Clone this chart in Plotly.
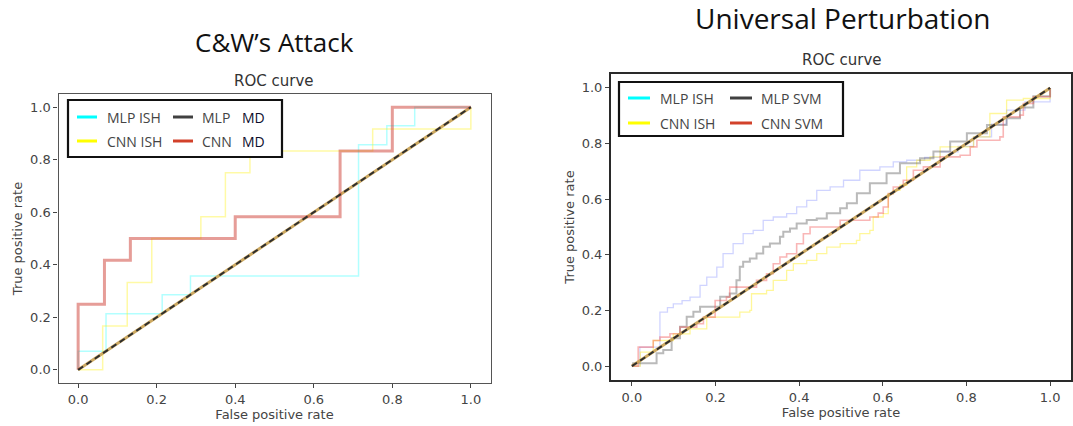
import plotly.graph_objects as go

# ---------------- Data: C&W's Attack ----------------
cw_mlp_ish_fpr = [0, 0, 0.071, 0.071, 0.214, 0.214, 0.286, 0.286, 0.714, 0.714, 0.786, 0.786, 0.857, 0.857, 1.0]
cw_mlp_ish_tpr = [0, 0.071, 0.071, 0.214, 0.214, 0.286, 0.286, 0.357, 0.357, 0.857, 0.857, 0.929, 0.929, 1.0, 1.0]

cw_cnn_ish_fpr = [0, 0.0625, 0.0625, 0.125, 0.125, 0.1875, 0.1875, 0.3125, 0.3125, 0.375, 0.375, 0.4375, 0.4375, 0.75, 0.75, 1.0, 1.0]
cw_cnn_ish_tpr = [0, 0, 0.167, 0.167, 0.333, 0.333, 0.5, 0.5, 0.583, 0.583, 0.75, 0.75, 0.833, 0.833, 0.917, 0.917, 1.0]

cw_cnn_md_fpr = [0, 0, 0.067, 0.067, 0.133, 0.133, 0.4, 0.4, 0.667, 0.667, 0.8, 0.8, 1.0]
cw_cnn_md_tpr = [0, 0.25, 0.25, 0.417, 0.417, 0.5, 0.5, 0.583, 0.583, 0.833, 0.833, 1.0, 1.0]

cw_mlp_md_fpr = [0, 1.0]
cw_mlp_md_tpr = [0, 1.0]

diag = [0, 1]

# ---------------- Data: Universal Perturbation ----------------
up_mlp_ish_fpr = [0, 0.019, 0.045, 0.067, 0.085, 0.099, 0.12, 0.139, 0.163, 0.179, 0.203, 0.218, 0.242, 0.266, 0.29, 0.314,
                  0.338, 0.37, 0.394, 0.418, 0.442, 0.474, 0.506, 0.545, 0.593, 0.625, 0.657, 0.7, 0.737, 0.78, 0.817, 0.86, 0.896, 0.94, 1.0]
up_mlp_ish_tpr = [0, 0.068, 0.068, 0.194, 0.21, 0.224, 0.235, 0.248, 0.29, 0.32, 0.356, 0.404, 0.44, 0.476, 0.488, 0.524,
                  0.536, 0.548, 0.572, 0.596, 0.632, 0.644, 0.668, 0.704, 0.716, 0.734, 0.74, 0.75, 0.77, 0.79, 0.824, 0.87, 0.92, 0.95, 1.0]

up_mlp_svm_fpr = [0, 0.003, 0.059, 0.059, 0.075, 0.095, 0.115, 0.131, 0.147, 0.163, 0.19, 0.211, 0.234, 0.25, 0.258, 0.266,
                  0.282, 0.298, 0.314, 0.33, 0.354, 0.362, 0.378, 0.394, 0.418, 0.442, 0.466, 0.498, 0.514, 0.538, 0.569,
                  0.609, 0.641, 0.689, 0.721, 0.761, 0.801, 0.849, 0.896, 0.928, 0.96, 1.0]
up_mlp_svm_tpr = [0, 0.01, 0.022, 0.046, 0.058, 0.1, 0.141, 0.177, 0.195, 0.213, 0.213, 0.249, 0.261, 0.309, 0.357, 0.375,
                  0.387, 0.405, 0.429, 0.441, 0.465, 0.483, 0.495, 0.513, 0.525, 0.531, 0.549, 0.567, 0.585, 0.621, 0.657,
                  0.693, 0.729, 0.747, 0.771, 0.807, 0.837, 0.867, 0.891, 0.93, 0.97, 1.0]

up_cnn_svm_fpr = [0, 0.015, 0.043, 0.051, 0.067, 0.091, 0.115, 0.155, 0.171, 0.195, 0.199, 0.226, 0.234, 0.274, 0.298, 0.322,
                  0.338, 0.354, 0.37, 0.394, 0.41, 0.426, 0.474, 0.498, 0.545, 0.569, 0.589, 0.601, 0.613, 0.625, 0.649,
                  0.673, 0.697, 0.737, 0.785, 0.809, 0.825, 0.88, 0.888, 0.928, 0.936, 0.96, 1.0]
up_cnn_svm_tpr = [0, 0.068, 0.068, 0.092, 0.104, 0.116, 0.14, 0.152, 0.176, 0.176, 0.236, 0.248, 0.284, 0.284, 0.308, 0.332,
                  0.368, 0.392, 0.404, 0.44, 0.476, 0.5, 0.5, 0.524, 0.524, 0.536, 0.55, 0.572, 0.62, 0.644, 0.668,
                  0.704, 0.716, 0.752, 0.758, 0.788, 0.812, 0.824, 0.896, 0.902, 0.944, 0.968, 1.0]

up_cnn_ish_fpr = [0, 0.02, 0.051, 0.099, 0.139, 0.179, 0.258, 0.282, 0.286, 0.322, 0.338, 0.37, 0.386, 0.418, 0.442, 0.466,
                  0.498, 0.537, 0.545, 0.569, 0.577, 0.601, 0.613, 0.625, 0.641, 0.657, 0.681, 0.713, 0.737, 0.817,
                  0.856, 0.896, 0.936, 1.0]
up_cnn_ish_tpr = [0, 0.05, 0.092, 0.116, 0.134, 0.176, 0.194, 0.2, 0.26, 0.272, 0.308, 0.344, 0.368, 0.38, 0.404, 0.428,
                  0.44, 0.452, 0.476, 0.488, 0.536, 0.548, 0.62, 0.632, 0.65, 0.716, 0.74, 0.752, 0.788, 0.824,
                  0.908, 0.956, 0.962, 1.0]

tick_vals = [0.0, 0.2, 0.4, 0.6, 0.8, 1.0]
tick_text = ["0.0", "0.2", "0.4", "0.6", "0.8", "1.0"]

W, H = 1073, 426

def px_x(p):
    return p / W

def px_y(p):
    return 1 - p / H

fig = go.Figure()

# ---- Left panel traces
fig.add_trace(go.Scatter(x=cw_mlp_ish_fpr, y=cw_mlp_ish_tpr, mode="lines", line=dict(color="rgba(0,255,255,0.3)", width=1.5),
                         xaxis="x", yaxis="y", showlegend=False))
fig.add_trace(go.Scatter(x=cw_cnn_ish_fpr, y=cw_cnn_ish_tpr, mode="lines", line=dict(color="rgba(255,240,0,0.35)", width=1.5),
                         xaxis="x", yaxis="y", showlegend=False))
fig.add_trace(go.Scatter(x=cw_mlp_md_fpr, y=cw_mlp_md_tpr, mode="lines", line=dict(color="rgba(200,160,80,0.9)", width=3),
                         xaxis="x", yaxis="y", showlegend=False))
fig.add_trace(go.Scatter(x=cw_cnn_md_fpr, y=cw_cnn_md_tpr, mode="lines", line=dict(color="rgba(205,60,50,0.5)", width=3),
                         xaxis="x", yaxis="y", showlegend=False))
fig.add_trace(go.Scatter(x=diag, y=diag, mode="lines", line=dict(color="#2e2e2e", width=2, dash="6px,4px"),
                         xaxis="x", yaxis="y", showlegend=False))

# ---- Right panel traces
fig.add_trace(go.Scatter(x=up_mlp_ish_fpr, y=up_mlp_ish_tpr, mode="lines", line=dict(color="rgba(150,160,255,0.45)", width=1.3, shape="hv"),
                         xaxis="x2", yaxis="y2", showlegend=False))
fig.add_trace(go.Scatter(x=up_cnn_ish_fpr, y=up_cnn_ish_tpr, mode="lines", line=dict(color="rgba(255,235,0,0.4)", width=1.3, shape="hv"),
                         xaxis="x2", yaxis="y2", showlegend=False))
fig.add_trace(go.Scatter(x=up_mlp_svm_fpr, y=up_mlp_svm_tpr, mode="lines", line=dict(color="rgba(90,90,90,0.42)", width=2, shape="hv"),
                         xaxis="x2", yaxis="y2", showlegend=False))
fig.add_trace(go.Scatter(x=up_cnn_svm_fpr, y=up_cnn_svm_tpr, mode="lines", line=dict(color="rgba(240,80,80,0.42)", width=1.6, shape="hv"),
                         xaxis="x2", yaxis="y2", showlegend=False))
fig.add_trace(go.Scatter(x=diag, y=diag, mode="lines", line=dict(color="rgba(200,160,80,0.9)", width=3),
                         xaxis="x2", yaxis="y2", showlegend=False))
fig.add_trace(go.Scatter(x=diag, y=diag, mode="lines", line=dict(color="#2e2e2e", width=2, dash="6px,4px"),
                         xaxis="x2", yaxis="y2", showlegend=False))

tick_font = dict(family="DejaVu Sans", size=13, color="#444")
title_font = dict(family="DejaVu Sans", size=13, color="#444")

def axis(linecolor, linewidth):
    return dict(range=[-0.05, 1.05], tickvals=tick_vals, ticktext=tick_text, ticks="outside", ticklen=4,
                tickcolor="#444", tickfont=tick_font, automargin=False,
                showgrid=False, zeroline=False, showline=True, linecolor=linecolor, linewidth=linewidth, mirror=True)

fig.update_layout(
    width=W, height=H, margin=dict(l=0, r=0, t=0, b=0, autoexpand=False),
    paper_bgcolor="white", plot_bgcolor="white",
    xaxis=dict(domain=[px_x(58.5), px_x(490.5)], anchor="y",
               title=dict(text="False positive rate", font=title_font, standoff=2), **axis("#555", 1.2)),
    yaxis=dict(domain=[px_y(383), px_y(94)], anchor="x",
               title=dict(text="True positive rate", font=title_font, standoff=4), **axis("#555", 1.2)),
    xaxis2=dict(domain=[px_x(611), px_x(1071)], anchor="y2",
                title=dict(text="False positive rate", font=title_font, standoff=2), **axis("#2a2a2a", 2)),
    yaxis2=dict(domain=[px_y(380), px_y(74)], anchor="x2",
                title=dict(text="True positive rate", font=title_font, standoff=4), **axis("#2a2a2a", 2)),
)

annotations = []
shapes = []

# Titles
annotations.append(dict(text="C&W’s Attack", x=px_x(274), y=px_y(42), xref="paper", yref="paper",
                        showarrow=False, font=dict(family="Open Sans", size=26, color="#111"), xanchor="center", yanchor="middle"))
annotations.append(dict(text="Universal Perturbation", x=px_x(842), y=px_y(18), xref="paper", yref="paper",
                        showarrow=False, font=dict(family="Open Sans", size=28, color="#111"), xanchor="center", yanchor="middle"))
annotations.append(dict(text="ROC curve", x=px_x(274), y=px_y(81), xref="paper", yref="paper",
                        showarrow=False, font=dict(family="DejaVu Sans", size=15, color="#333"), xanchor="center", yanchor="middle"))
annotations.append(dict(text="ROC curve", x=px_x(842), y=px_y(60), xref="paper", yref="paper",
                        showarrow=False, font=dict(family="DejaVu Sans", size=15, color="#333"), xanchor="center", yanchor="middle"))

# Manual legends
def legend(box, entries):
    x0, y0, x1, y1 = box
    shapes.append(dict(type="rect", xref="paper", yref="paper", x0=px_x(x0), x1=px_x(x1), y0=px_y(y1), y1=px_y(y0),
                       line=dict(color="#111", width=2.2), fillcolor="white", layer="above"))
    for (lx0, lx1, ly, color, texts) in entries:
        shapes.append(dict(type="line", xref="paper", yref="paper", x0=px_x(lx0), x1=px_x(lx1), y0=px_y(ly), y1=px_y(ly),
                           line=dict(color=color, width=3), layer="above"))
        for (tx, txt, fam, size, col) in texts:
            annotations.append(dict(text=txt, x=px_x(tx), y=px_y(ly), xref="paper", yref="paper", showarrow=False,
                                    font=dict(family=fam, size=size, color=col), xanchor="left", yanchor="middle"))

g = "#444"
lf = "Open Sans"
legend((68, 100, 282, 157), [
    (77, 97, 117, "#00ffff", [(105, "MLP ISH", lf, 14, g)]),
    (77, 97, 141, "#ffff00", [(105, "CNN ISH", lf, 14, g)]),
    (173, 193, 117, "#404040", [(200, "MLP", lf, 14, g), (240, "MD", lf, 14, "#0d0d2b")]),
    (173, 193, 141, "#d2412a", [(200, "CNN", lf, 14, g), (240, "MD", lf, 14, "#0d0d2b")]),
])
legend((619, 82, 843, 136), [
    (628, 650, 98, "#00ffff", [(658, "MLP ISH", lf, 14, g)]),
    (628, 650, 123, "#ffff00", [(658, "CNN ISH", lf, 14, g)]),
    (730, 752, 98, "#404040", [(759, "MLP SVM", lf, 14, g)]),
    (730, 752, 123, "#d2412a", [(759, "CNN SVM", lf, 14, g)]),
])

fig.update_layout(annotations=annotations, shapes=shapes)
fig.write_html("out.html", config={"displayModeBar": False},
               post_script="document.body.style.margin='0';document.body.style.overflow='hidden';")
